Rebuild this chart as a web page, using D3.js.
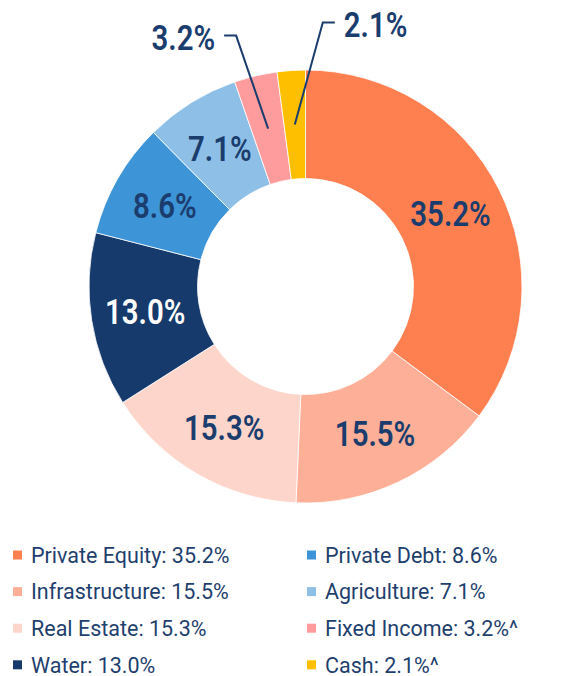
<!DOCTYPE html>
<html>
<head>
<meta charset="utf-8">
<script src="https://cdn.jsdelivr.net/npm/d3@7"></script>
<style>
  body { margin: 0; background: #fff; }
</style>
</head>
<body>
<div id="chart"></div>
<script>
var categories = ["Private Equity", "Infrastructure", "Real Estate", "Water", "Private Debt", "Agriculture", "Fixed Income", "Cash"];
var values = [35.2, 15.5, 15.3, 13.0, 8.6, 7.1, 3.2, 2.1];
var legendSuffix = ["", "", "", "", "", "", "^", "^"];
var colors = ["#fe7f50", "#fdaf97", "#fdd5ca", "#163a6b", "#3d94d7", "#8ec0e7", "#fe9b9d", "#febf00"];
// which slices get an outside label with a leader line
var outside = ["Fixed Income", "Cash"];

var width = 576, height = 676;
var cx = 305.5, cy = 286.5, outerR = 216.5, innerR = 108;
var navy = "#1b3d6e";
var squeeze = 0.84; // labels are a condensed face, narrow Roboto to match

var svg = d3.select("#chart")
    .append("svg")
    .attr("width", width)
    .attr("height", height);

var g = svg.append("g")
    .attr("transform", "translate(" + cx + "," + cy + ")");

var pie = d3.pie().sort(null).value(function(d) { return d.value; });
var arc = d3.arc().innerRadius(innerR).outerRadius(outerR);

var data = categories.map(function(c, i) {
  return {name: c, value: values[i], color: colors[i], suffix: legendSuffix[i]};
});
var arcs = pie(data);

g.selectAll("path.slice")
    .data(arcs)
    .enter()
    .append("path")
    .attr("class", "slice")
    .attr("d", arc)
    .style("fill", function(d) { return d.data.color; })
    .style("stroke", "#fff")
    .style("stroke-width", 0.8);

function labelStyle(sel) {
  sel.attr("dy", "0.36em")
     .style("font-family", "Roboto, sans-serif")
     .style("font-weight", 600)
     .style("font-size", "35px")
     .text(function(d) { return d.data.value.toFixed(1) + "%"; });
}

// inside labels
g.selectAll("text.inlabel")
    .data(arcs.filter(function(d) { return outside.indexOf(d.data.name) < 0; }))
    .enter()
    .append("text")
    .attr("class", "inlabel")
    .attr("transform", function(d) {
      var c = arc.centroid(d);
      return "translate(" + c[0] + "," + c[1] + ") scale(" + squeeze + ",1)";
    })
    .attr("text-anchor", "middle")
    .style("fill", function(d) { return d.data.name == "Water" ? "#fff" : navy; })
    .call(labelStyle);

// outside labels with leader lines (offsets from the slice centroid)
var leaderOffset = {"Fixed Income": [-32, -93, -1], "Cash": [28, -102, 1]};

var outs = arcs.filter(function(d) { return outside.indexOf(d.data.name) >= 0; });

g.selectAll("path.leader")
    .data(outs)
    .enter()
    .append("path")
    .attr("class", "leader")
    .attr("d", function(d) {
      var c = arc.centroid(d), o = leaderOffset[d.data.name];
      var ex = c[0] + o[0], ey = c[1] + o[1];
      return "M" + c[0] + "," + c[1] + "L" + ex + "," + ey + "L" + (ex + o[2] * 12) + "," + ey;
    })
    .style("fill", "none")
    .style("stroke", navy)
    .style("stroke-width", 2);

g.selectAll("text.outlabel")
    .data(outs)
    .enter()
    .append("text")
    .attr("class", "outlabel")
    .attr("transform", function(d) {
      var c = arc.centroid(d), o = leaderOffset[d.data.name];
      return "translate(" + (c[0] + o[0] + o[2] * 21) + "," + (c[1] + o[1] + 2) + ") scale(" + squeeze + ",1)";
    })
    .attr("text-anchor", function(d) { return leaderOffset[d.data.name][2] < 0 ? "end" : "start"; })
    .style("fill", navy)
    .call(labelStyle);

// legend, two columns of four
var legend = svg.append("g");
var colX = [13, 307], rowY0 = 555, rowStep = 36.6;

var items = legend.selectAll("g.item")
    .data(data)
    .enter()
    .append("g")
    .attr("class", "item")
    .attr("transform", function(d, i) {
      return "translate(" + colX[Math.floor(i / 4)] + "," + (rowY0 + (i % 4) * rowStep) + ")";
    });

items.append("rect")
    .attr("x", 0)
    .attr("y", -4.5)
    .attr("width", 9)
    .attr("height", 9)
    .style("fill", function(d) { return d.color; });

items.append("text")
    .attr("x", 18)
    .attr("y", 0)
    .attr("dy", "0.36em")
    .style("font-family", "Roboto, sans-serif")
    .style("font-size", "21.5px")
    .style("fill", "#1f3f6e")
    .text(function(d) { return d.name + ": " + d.value.toFixed(1) + "%" + d.suffix; });
</script>
</body>
</html>
